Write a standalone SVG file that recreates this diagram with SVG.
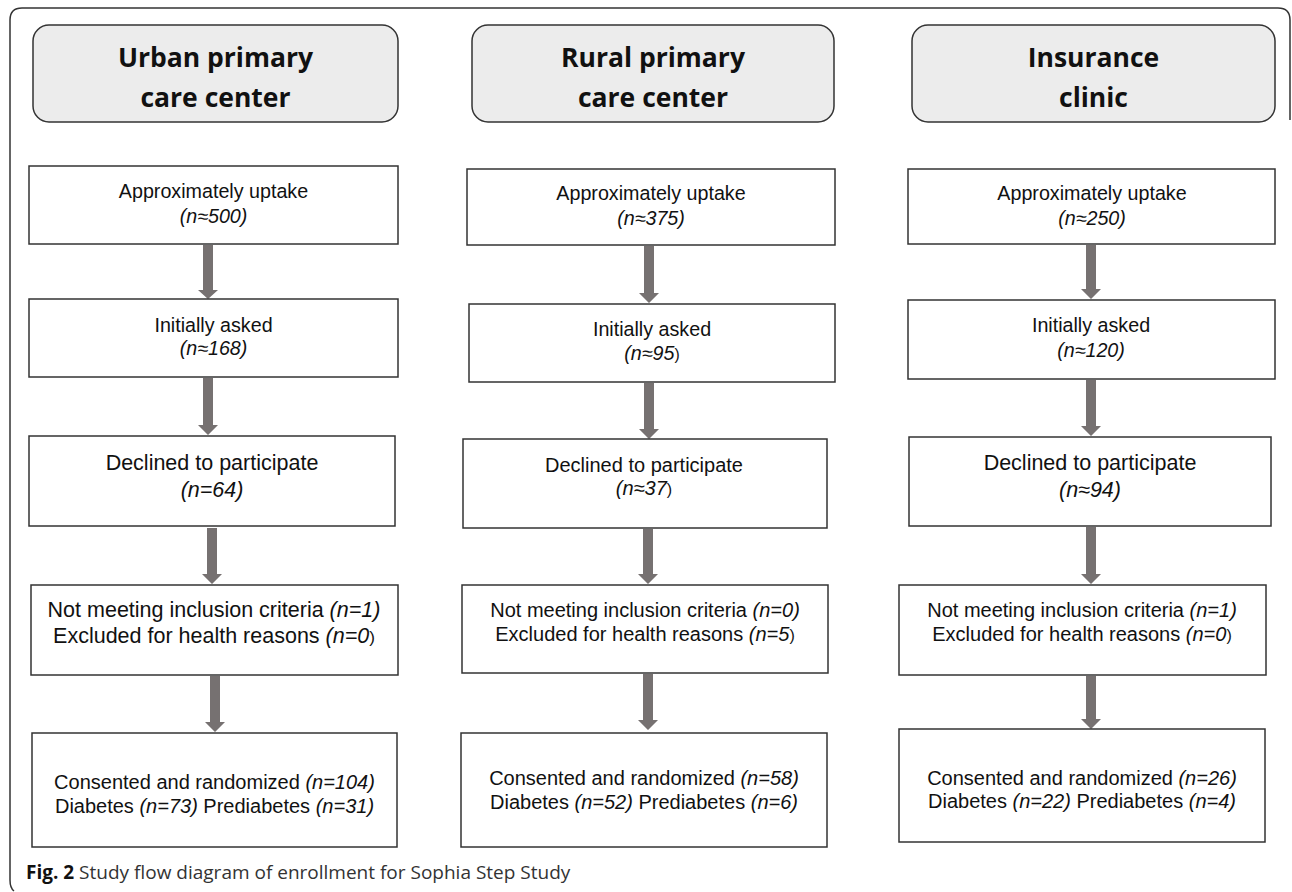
<svg xmlns="http://www.w3.org/2000/svg" width="1292" height="892" viewBox="0 0 1292 892">
<style>
.frame{fill:none;stroke:#333;stroke-width:1.5}
.hdr{fill:#ececec;stroke:#333;stroke-width:1.5}
.box{fill:#fff;stroke:#333;stroke-width:1.5}
.ht{font-family:"Open Sans","Liberation Sans",sans-serif;font-weight:bold;font-size:26.5px;fill:#111;text-anchor:middle}
.t{font-family:"Liberation Sans",Arial,sans-serif;font-size:19.7px;fill:#111;text-anchor:middle}
.t2{font-family:"Liberation Sans",Arial,sans-serif;font-size:21.5px;fill:#111;text-anchor:middle}
.t3{font-family:"Liberation Sans",Arial,sans-serif;font-size:20px;fill:#111;text-anchor:middle}
.i{font-style:italic}
.sp{font-style:normal;font-size:0.8em}
.arr{fill:#767171}
.cap{font-family:"Open Sans","Liberation Sans",sans-serif;font-size:19px;fill:#333}
</style>
<rect width="1292" height="892" fill="#fff"/>
<path class="frame" d="M14,891 Q10,888 10,880 L10,20 Q10,8 22,8 L1278,8 Q1290,8 1290,20 L1290,120"/>

<g id="hdr-urban"><rect class="hdr" x="33" y="25" width="365" height="97" rx="16"/>
<text class="ht" x="215.5" y="67">Urban primary</text><text class="ht" x="215.5" y="107">care center</text></g>
<g id="hdr-rural"><rect class="hdr" x="472" y="25" width="362" height="97" rx="16"/>
<text class="ht" x="653" y="67">Rural primary</text><text class="ht" x="653" y="107">care center</text></g>
<g id="hdr-insurance"><rect class="hdr" x="912" y="25" width="363" height="97" rx="16"/>
<text class="ht" x="1093.5" y="67">Insurance</text><text class="ht" x="1093.5" y="107">clinic</text></g>

<g id="connectors">
<path class="arr" d="M203,245 H213 V290 H218 L208,299 L198,290 H203 Z"/>
<path class="arr" d="M203,378 H213 V425 H218 L208,435 L198,425 H203 Z"/>
<path class="arr" d="M207,528 H217 V574 H222 L212,584 L202,574 H207 Z"/>
<path class="arr" d="M210,676 H220 V722 H225 L215,732 L205,722 H210 Z"/>

<path class="arr" d="M644,246 H654 V293 H659 L649,303 L639,293 H644 Z"/>
<path class="arr" d="M644,383 H654 V429 H659 L649,439 L639,429 H644 Z"/>
<path class="arr" d="M643,529 H653 V574 H658 L648,584 L638,574 H643 Z"/>
<path class="arr" d="M643,674 H653 V720 H658 L648,730 L638,720 H643 Z"/>

<path class="arr" d="M1086,245 H1096 V289 H1101 L1091,299 L1081,289 H1086 Z"/>
<path class="arr" d="M1086,380 H1096 V426 H1101 L1091,436 L1081,426 H1086 Z"/>
<path class="arr" d="M1086,527 H1096 V574 H1101 L1091,584 L1081,574 H1086 Z"/>
<path class="arr" d="M1086,676 H1096 V719 H1101 L1091,729 L1081,719 H1086 Z"/>
</g>

<g id="u1"><rect class="box" x="29" y="166" width="369" height="78"/>
<text class="t" x="213.5" y="198">Approximately uptake</text><text class="t i" x="213.5" y="223">(n≈500)</text></g>
<g id="u2"><rect class="box" x="29" y="299" width="369" height="78"/>
<text class="t" x="213.5" y="332">Initially asked</text><text class="t i" x="213.5" y="355">(n≈168)</text></g>
<g id="u3"><rect class="box" x="29" y="436" width="366" height="90"/>
<text class="t2" x="212" y="470">Declined to participate</text><text class="t2 i" x="212" y="497">(n=64)</text></g>
<g id="u4"><rect class="box" x="31" y="585" width="367" height="90"/>
<text class="t2" x="214" y="617">Not meeting inclusion criteria <tspan class="i">(n=1)</tspan></text>
<text class="t2" x="214" y="643">Excluded for health reasons <tspan class="i">(n=0</tspan><tspan class="sp">)</tspan></text></g>
<g id="u5"><rect class="box" x="32" y="733" width="365" height="114"/>
<text class="t3" x="214.5" y="789">Consented and randomized <tspan class="i">(n=104)</tspan></text>
<text class="t3" x="214.5" y="813">Diabetes <tspan class="i">(n=73)</tspan> Prediabetes <tspan class="i">(n=31)</tspan></text></g>

<g id="r1"><rect class="box" x="467" y="169" width="368" height="76"/>
<text class="t" x="651" y="200">Approximately uptake</text><text class="t i" x="651" y="225">(n≈375)</text></g>
<g id="r2"><rect class="box" x="469" y="304" width="366" height="78"/>
<text class="t" x="652" y="336">Initially asked</text><text class="t i" x="652" y="360">(n≈95<tspan class="sp">)</tspan></text></g>
<g id="r3"><rect class="box" x="463" y="439" width="364" height="89"/>
<text class="t3" x="644" y="472">Declined to participate</text><text class="t3 i" x="644" y="495">(n≈37<tspan class="sp">)</tspan></text></g>
<g id="r4"><rect class="box" x="462" y="585" width="366" height="88"/>
<text class="t3" x="645" y="617">Not meeting inclusion criteria <tspan class="i">(n=0)</tspan></text>
<text class="t3" x="645" y="641">Excluded for health reasons <tspan class="i">(n=5</tspan><tspan class="sp">)</tspan></text></g>
<g id="r5"><rect class="box" x="461" y="733" width="366" height="114"/>
<text class="t3" x="644" y="785">Consented and randomized <tspan class="i">(n=58)</tspan></text>
<text class="t3" x="644" y="809">Diabetes <tspan class="i">(n=52)</tspan> Prediabetes <tspan class="i">(n=6)</tspan></text></g>

<g id="i1"><rect class="box" x="908" y="169" width="367" height="75"/>
<text class="t" x="1092" y="200">Approximately uptake</text><text class="t i" x="1092" y="225">(n≈250)</text></g>
<g id="i2"><rect class="box" x="908" y="300" width="367" height="79"/>
<text class="t" x="1091" y="332">Initially asked</text><text class="t i" x="1091" y="357">(n≈120)</text></g>
<g id="i3"><rect class="box" x="909" y="437" width="362" height="89"/>
<text class="t2" x="1090" y="470">Declined to participate</text><text class="t2 i" x="1090" y="497">(n≈94)</text></g>
<g id="i4"><rect class="box" x="899" y="585" width="367" height="90"/>
<text class="t3" x="1082" y="617">Not meeting inclusion criteria <tspan class="i">(n=1)</tspan></text>
<text class="t3" x="1082" y="641">Excluded for health reasons <tspan class="i">(n=0</tspan><tspan class="sp">)</tspan></text></g>
<g id="i5"><rect class="box" x="899" y="729" width="366" height="113"/>
<text class="t3" x="1082" y="785">Consented and randomized <tspan class="i">(n=26)</tspan></text>
<text class="t3" x="1082" y="808">Diabetes <tspan class="i">(n=22)</tspan> Prediabetes <tspan class="i">(n=4)</tspan></text></g>

<text class="cap" x="26" y="879"><tspan font-weight="bold" fill="#111">Fig. 2</tspan> Study flow diagram of enrollment for Sophia Step Study</text>
</svg>
